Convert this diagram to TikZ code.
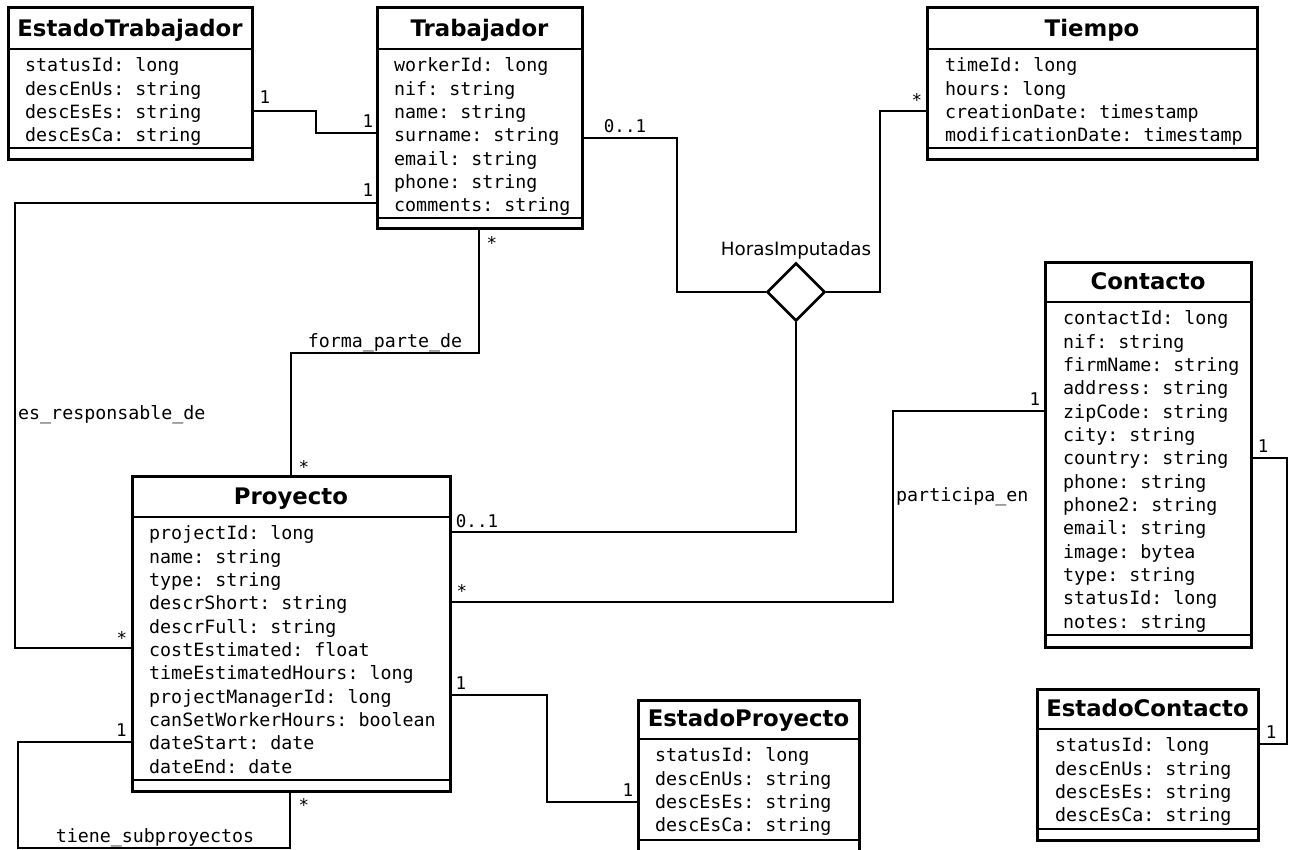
\documentclass[tikz,border=0pt]{standalone}
\usepackage{fontspec}
\setmainfont{DejaVu Sans}
\setmonofont{DejaVu Sans Mono}
\usepackage{tikz}
\usetikzlibrary{positioning,calc,shapes.geometric}

\newcommand{\umltitlefont}{\bfseries\fontsize{22.8}{27}\selectfont}
\newcommand{\umlattrfont}{\ttfamily\fontsize{18.3}{22}\selectfont}
\newcommand{\umlmultfont}{\ttfamily\fontsize{17.5}{21}\selectfont}
\newcommand{\umlrelfont}{\fontsize{18.3}{22}\selectfont}

\tikzset{
  classbox/.style={draw, line width=3pt, inner sep=0pt, outer sep=0pt},
  sepline/.style={line width=2.6pt},
  classtitle/.style={font=\umltitlefont, inner sep=0pt, anchor=base},
  attr/.style={font=\umlattrfont, inner sep=0pt, anchor=base west},
  mult/.style={font=\umlmultfont, inner sep=0pt, anchor=base},
  rolename/.style={font=\umlattrfont, inner sep=0pt, anchor=base},
  relship/.style={diamond, draw, line width=2.6pt, fill=white, inner sep=0pt,
    minimum width=58pt, minimum height=58pt},
  assoc/.style={line width=2.6pt}
}

% class box: name, left, top, right, bottom, title line, lower line, title
\newcommand{\umlclass}[8]{%
  \node[classbox, minimum width=#4pt-#2pt, minimum height=#5pt-#3pt]
    (#1) at ({(#2+#4)/2},{(#3+#5)/2}) {};
  \draw[sepline] (#2,#6) -- (#4,#6);
  \draw[sepline] (#2,#7) -- (#4,#7);
  \node[classtitle] (#1-title) at ({(#2+#4)/2},{#6-12.3}) {#8};
}
% attributes: name, left, title line, list
\newcommand{\umlattrs}[4]{%
  \foreach \attr [count=\i from 0] in {#4}
    \node[attr] (#1-a\i) at ({#2+17},{#3+22.7+23.35*\i}) {\attr};
}

\begin{document}
\begin{tikzpicture}[x=1pt, y=-1pt]
    \fill[white] (0,0) rectangle (1289,850);
    \useasboundingbox (0,0) rectangle (1289,850);

    % Classes
    \umlclass{estTrab}{8}{8}{252}{160}{49}{148}{EstadoTrabajador}
    \umlattrs{estTrab}{8}{49}{statusId: long, descEnUs: string, descEsEs: string, descEsCa: string}

    \umlclass{trab}{377}{8}{582}{229}{49}{218}{Trabajador}
    \umlattrs{trab}{377}{49}{workerId: long, nif: string, name: string, surname: string,
      email: string, phone: string, comments: string}

    \umlclass{tiempo}{927}{8}{1257}{160}{49}{148}{Tiempo}
    \umlattrs{tiempo}{928}{49}{timeId: long, hours: long, creationDate: timestamp,
      modificationDate: timestamp}

    \umlclass{contacto}{1045}{262}{1251}{647}{302}{635}{Contacto}
    \umlattrs{contacto}{1046}{302}{contactId: long, nif: string, firmName: string,
      address: string, zipCode: string, city: string, country: string, phone: string,
      phone2: string, email: string, image: bytea, type: string, statusId: long,
      notes: string}

    \umlclass{proy}{132}{476}{450}{791}{517}{780}{Proyecto}
    \umlattrs{proy}{132}{517}{projectId: long, name: string, type: string,
      descrShort: string, descrFull: string, costEstimated: float,
      timeEstimatedHours: long, projectManagerId: long, canSetWorkerHours: boolean,
      dateStart: date, dateEnd: date}

    \umlclass{estProy}{638}{700}{859}{852}{739}{840}{EstadoProyecto}
    \umlattrs{estProy}{638}{739}{statusId: long, descEnUs: string, descEsEs: string, descEsCa: string}

    \umlclass{estCont}{1037}{689}{1258}{840}{729}{829}{EstadoContacto}
    \umlattrs{estCont}{1038}{729}{statusId: long, descEnUs: string, descEsEs: string, descEsCa: string}

    % Relationship
    \node[relship] (horas) at (796,292) {};
    \node[font=\umlrelfont, inner sep=0pt, anchor=base] (horas-name) at (796,255) {HorasImputadas};

    % Associations
    \draw[assoc] (estTrab.east |- 0,111) -| (316,133) -- (trab.west |- 0,133);
    \draw[assoc] (trab.west |- 0,203) -| (15,648) -- (proy.west |- 0,648);
    \draw[assoc] (trab.south -| 479,0) |- (291,353) -- (proy.north -| 291,0);
    \draw[assoc] (trab.east |- 0,138) -| (677,292) -- (horas.west);
    \draw[assoc] (horas.east) -| (880,111) -- (tiempo.west |- 0,111);
    \draw[assoc] (horas.south) |- (proy.east |- 0,532);
    \draw[assoc] (proy.east |- 0,602) -| (893,411) -- (contacto.west |- 0,411);
    \draw[assoc] (proy.east |- 0,695) -| (547,802) -- (estProy.west |- 0,802);
    \draw[assoc] (proy.west |- 0,742) -| (18,848) -| (proy.south -| 290,0);
    \draw[assoc] (contacto.east |- 0,458) -| (1287,744) -- (estCont.east |- 0,744);

    % Multiplicities
    \node[mult] (m-et-a) at (265,104) {1};
    \node[mult] (m-et-b) at (368,128) {1};
    \node[mult] (m-resp-a) at (368,197) {1};
    \node[mult] (m-resp-b) at (122,644) {*};
    \node[mult] (m-forma-a) at (492,249) {*};
    \node[mult] (m-forma-b) at (304,473) {*};
    \node[mult] (m-horas-t) at (625,133) {0..1};
    \node[mult] (m-horas-ti) at (917,107) {*};
    \node[mult] (m-horas-p) at (477,527) {0..1};
    \node[mult] (m-part-p) at (462,597) {*};
    \node[mult] (m-part-c) at (1035,405) {1};
    \node[mult] (m-ep-p) at (461,689) {1};
    \node[mult] (m-ep-e) at (628,796) {1};
    \node[mult] (m-sub-a) at (121.5,736) {1};
    \node[mult] (m-sub-b) at (304,811) {*};
    \node[mult] (m-ec-c) at (1263,452) {1};
    \node[mult] (m-ec-e) at (1271,738) {1};

    % Role names
    \node[rolename] (forma) at (385,347) {forma\_parte\_de};
    \node[rolename, anchor=base west] (resp) at (18,419) {es\_responsable\_de};
    \node[rolename, anchor=base west] (part) at (896,501) {participa\_en};
    \node[rolename] (sub) at (155,842) {tiene\_subproyectos};
\end{tikzpicture}
\end{document}
